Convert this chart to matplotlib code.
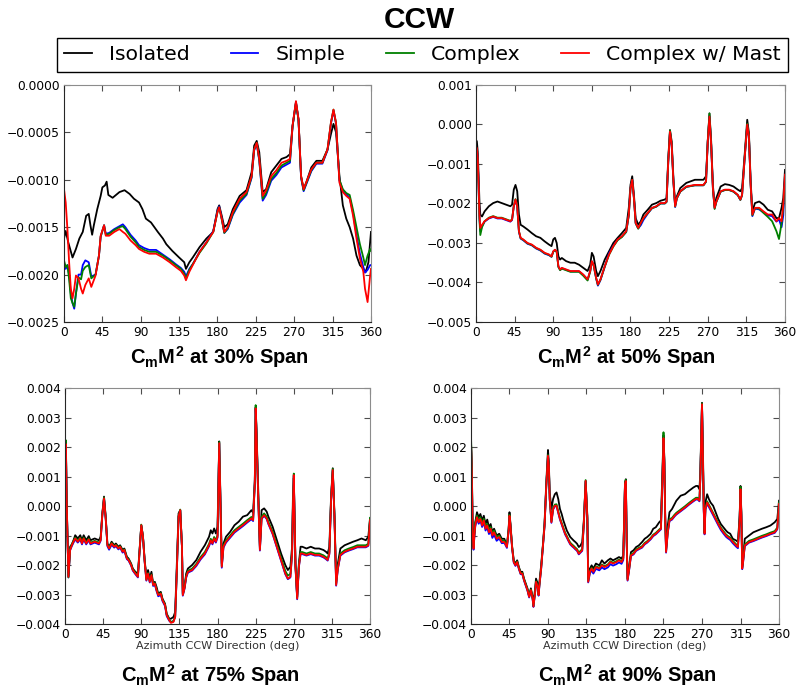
import matplotlib
matplotlib.use("Agg")
import matplotlib.pyplot as plt
import matplotlib.ticker as ticker
import numpy as np

# values are CmM^2 in units of 1e-4

# ---- 30% span ----
az_iso_30 = [0, 2, 5, 10, 14, 18, 22, 26, 29, 31,
             33, 35, 39, 43, 45, 48, 50, 52, 57, 65,
             71, 77, 82, 88, 92, 96, 102, 106, 110, 116,
             120, 127, 135, 141, 143, 147, 151, 159, 167, 175,
             180, 182, 185, 188, 192, 198, 206, 214, 220, 223,
             226, 229, 233, 237, 243, 249, 255, 261, 265, 268,
             272, 275, 278, 281, 284, 290, 296, 303, 309, 313,
             316, 319, 323, 327, 331, 335, 339, 343, 347, 351,
             354, 357, 360]
iso_30 = [-16.2, -15.4, -16.6, -18.2, -17.3, -16.2, -15.5, -13.8, -13.6, -14.8,
          -15.8, -14.8, -13.1, -11.7, -10.8, -10.6, -10.2, -11.6, -11.9, -11.3,
          -11.1, -11.5, -12.0, -12.4, -13.1, -14.1, -14.5, -15.0, -15.5, -16.2,
          -16.8, -17.5, -18.2, -18.7, -19.4, -18.7, -18.2, -17.1, -16.2, -15.5,
          -13.1, -12.7, -13.8, -15.0, -14.7, -13.1, -11.7, -11.1, -9.2, -6.4,
          -5.9, -7.1, -11.3, -11.0, -9.2, -8.5, -7.8, -7.6, -7.3, -4.3,
          -1.9, -3.6, -9.6, -11.0, -10.3, -8.7, -8.0, -8.0, -6.8, -5.2,
          -4.1, -5.0, -9.6, -12.7, -14.1, -15.0, -16.2, -18.0, -19.0, -19.4,
          -19.7, -18.7, -15.5]

az_30 = [0, 2, 4, 6, 8, 10, 12, 14, 17, 20,
         22, 25, 29, 32, 37, 41, 43, 47, 49, 53,
         59, 65, 69, 72, 78, 84, 88, 94, 100, 108,
         116, 124, 131, 137, 141, 143, 147, 151, 159, 167,
         175, 180, 182, 185, 188, 192, 198, 206, 214, 220,
         223, 226, 229, 233, 237, 243, 249, 255, 261, 265,
         268, 272, 275, 278, 281, 284, 290, 296, 303, 309,
         313, 316, 319, 323, 327, 331, 335, 339, 343, 347,
         351, 353, 356, 359, 360]
simple_30 = [-19.0, -19.4, -19.0, -20.0, -22.0, -23.0, -23.6, -22.0, -20.0, -20.0,
             -19.0, -18.5, -18.7, -20.2, -20.0, -18.0, -16.0, -14.8, -15.7, -15.6,
             -15.2, -14.9, -14.7, -15.0, -15.8, -16.4, -16.9, -17.2, -17.4, -17.4,
             -17.9, -18.4, -18.9, -19.3, -19.7, -20.2, -19.4, -18.9, -17.6, -16.6,
             -15.4, -13.3, -12.8, -14.1, -15.6, -15.2, -13.7, -12.4, -11.6, -9.8,
             -6.9, -6.2, -8.0, -12.2, -11.6, -10.1, -9.5, -8.7, -8.4, -8.2,
             -4.4, -1.8, -3.7, -9.8, -11.2, -10.5, -9.1, -8.3, -8.3, -6.9,
             -4.1, -2.7, -4.1, -10.1, -11.1, -11.5, -11.9, -13.5, -15.8, -17.8,
             -19.2, -19.8, -19.5, -19.0, -19.0]
complex_30 = [-18.5, -19.2, -19.0, -20.5, -22.5, -23.0, -23.4, -22.0, -20.3, -20.5,
              -19.6, -19.2, -19.0, -20.4, -20.0, -18.0, -16.0, -14.8, -15.8, -15.7,
              -15.3, -15.0, -14.9, -15.2, -16.0, -16.6, -17.1, -17.4, -17.6, -17.6,
              -18.0, -18.5, -19.0, -19.4, -19.9, -20.4, -19.5, -18.9, -17.7, -16.7,
              -15.5, -13.4, -12.9, -14.2, -15.6, -15.1, -13.6, -12.2, -11.5, -9.7,
              -6.8, -6.1, -7.9, -12.0, -11.4, -9.9, -9.3, -8.5, -8.2, -8.0,
              -4.4, -1.8, -3.7, -9.7, -11.1, -10.4, -9.0, -8.2, -8.2, -6.8,
              -4.0, -2.6, -4.0, -10.0, -11.0, -11.4, -11.6, -13.2, -15.0, -16.8,
              -18.2, -19.0, -18.0, -17.3, -17.5]
mast_30 = [-11.0, -12.4, -15.2, -18.7, -21.5, -22.5, -21.5, -20.1, -20.4, -21.5,
           -22.0, -21.1, -20.4, -21.3, -20.1, -18.0, -15.9, -14.8, -15.9, -15.9,
           -15.5, -15.2, -15.5, -15.7, -16.4, -16.9, -17.3, -17.6, -17.8, -17.8,
           -18.2, -18.7, -19.2, -19.6, -20.1, -20.6, -19.7, -19.0, -17.6, -16.6,
           -15.5, -13.4, -12.9, -14.1, -15.5, -15.0, -13.4, -12.0, -11.3, -9.6,
           -6.8, -6.1, -7.8, -11.7, -11.1, -9.6, -9.0, -8.2, -8.0, -7.8,
           -4.3, -1.7, -3.6, -9.6, -11.0, -10.3, -8.9, -8.2, -8.2, -6.8,
           -4.0, -2.6, -4.0, -10.3, -11.3, -11.7, -12.0, -13.8, -16.2, -18.3,
           -19.7, -21.5, -22.9, -20.1, -19.4]

# ---- 50% span ----
az_50 = [0, 1, 2, 3, 4, 5, 7, 10, 15, 20,
         25, 30, 35, 40, 42, 44, 46, 48, 50, 52,
         55, 60, 65, 70, 75, 80, 85, 88, 90, 92,
         94, 96, 98, 100, 105, 110, 115, 120, 125, 130,
         133, 135, 137, 140, 142, 145, 150, 155, 160, 165,
         170, 175, 178, 180, 182, 184, 186, 189, 192, 195,
         200, 205, 210, 215, 220, 222, 224, 226, 228, 230,
         232, 234, 238, 245, 255, 265, 268, 270, 272, 274,
         276, 278, 280, 285, 290, 295, 300, 305, 308, 310,
         313, 316, 318, 320, 322, 325, 330, 335, 340, 345,
         350, 353, 356, 358, 360]
iso_50 = [-3.9, -4.3, -6.8, -12.7, -19.5, -22.8, -23.3, -22.0, -20.7, -19.9,
          -19.5, -19.9, -20.3, -20.7, -20.3, -16.5, -15.3, -16.9, -22.8, -25.4,
          -25.8, -26.6, -27.5, -28.3, -28.7, -29.6, -30.4, -30.8, -29.1, -28.7,
          -30.0, -33.4, -34.2, -33.8, -34.6, -35.0, -35.0, -35.5, -36.3, -37.1,
          -35.5, -32.5, -33.4, -37.1, -38.4, -37.1, -34.2, -32.1, -30.0, -28.7,
          -27.5, -26.2, -21.1, -15.3, -13.1, -17.8, -23.7, -25.4, -24.5, -22.8,
          -21.6, -20.3, -19.9, -19.3, -19.0, -18.6, -8.5, -1.4, -4.3, -13.6,
          -20.3, -18.2, -16.1, -14.8, -14.0, -14.0, -13.1, -4.3, 2.8, -4.3,
          -15.3, -20.7, -18.6, -15.7, -15.1, -15.3, -15.7, -16.5, -16.9, -16.1,
          -7.7, 1.2, -2.2, -14.4, -22.0, -19.9, -19.5, -20.3, -21.6, -22.0,
          -23.7, -23.7, -21.1, -18.6, -11.5]
simple_50 = [-5.9, -6.4, -8.8, -15.6, -23.5, -27.0, -25.8, -24.6, -23.8, -23.4,
             -23.8, -23.8, -24.2, -24.6, -24.2, -20.8, -19.1, -20.8, -27.2, -28.9,
             -29.3, -30.2, -30.6, -31.4, -31.9, -32.7, -33.1, -33.5, -32.2, -31.8,
             -32.2, -36.0, -36.8, -36.4, -36.8, -37.2, -37.2, -37.2, -38.1, -39.3,
             -37.2, -34.7, -35.6, -39.0, -40.8, -39.4, -36.0, -32.6, -30.7, -29.2,
             -28.4, -27.2, -23.0, -16.2, -14.1, -18.7, -25.0, -26.3, -25.5, -24.2,
             -22.6, -21.2, -20.8, -20.0, -20.0, -19.6, -9.5, -1.9, -5.3, -14.5,
             -20.9, -18.7, -17.0, -15.8, -15.4, -15.4, -14.5, -4.4, 2.0, -5.3,
             -16.2, -21.2, -19.6, -17.0, -16.6, -16.6, -17.0, -17.9, -19.1, -17.9,
             -8.6, -0.1, -3.1, -15.4, -23.2, -21.3, -21.5, -22.3, -23.0, -23.2,
             -24.6, -24.0, -26.0, -23.0, -13.5]
complex_50 = [-6.0, -6.5, -9.0, -15.8, -24.0, -28.0, -26.0, -24.5, -23.6, -23.2,
              -23.6, -23.6, -24.0, -24.4, -24.0, -20.6, -18.9, -20.6, -27.0, -28.8,
              -29.2, -30.1, -30.5, -31.3, -31.8, -32.6, -33.0, -33.5, -32.2, -31.8,
              -32.3, -36.1, -36.9, -36.5, -36.9, -37.3, -37.3, -37.3, -38.3, -39.5,
              -37.3, -34.7, -35.6, -39.0, -40.6, -39.3, -36.0, -33.0, -30.9, -29.3,
              -28.5, -27.2, -23.0, -16.2, -14.0, -18.7, -25.0, -26.4, -25.0, -23.8,
              -22.5, -21.2, -20.8, -20.0, -20.0, -19.6, -9.2, -1.5, -5.1, -14.4,
              -20.8, -18.7, -17.0, -15.8, -15.4, -15.4, -14.5, -4.1, 2.8, -5.0,
              -16.2, -21.4, -19.6, -17.0, -16.6, -16.6, -17.0, -17.9, -19.1, -17.9,
              -8.4, 0.2, -2.9, -15.4, -23.0, -21.2, -21.3, -22.4, -23.4, -24.5,
              -27.0, -29.0, -25.0, -21.0, -14.0]
mast_50 = [-5.6, -6.0, -8.5, -15.3, -22.8, -26.2, -25.4, -24.5, -23.7, -23.3,
           -23.7, -23.7, -24.1, -24.5, -24.1, -20.7, -19.0, -20.7, -27.0, -28.7,
           -29.1, -30.0, -30.4, -31.2, -31.7, -32.5, -32.9, -33.4, -32.1, -31.7,
           -32.1, -35.9, -36.7, -36.3, -36.7, -37.1, -37.1, -37.1, -38.0, -39.2,
           -37.1, -34.6, -35.5, -38.8, -40.5, -39.2, -35.9, -32.9, -30.8, -29.1,
           -28.3, -27.0, -22.8, -16.1, -14.0, -18.6, -24.9, -26.2, -24.9, -23.7,
           -22.4, -21.1, -20.7, -19.9, -19.9, -19.5, -9.4, -1.8, -5.2, -14.4,
           -20.7, -18.6, -16.9, -15.7, -15.3, -15.3, -14.4, -4.3, 2.0, -5.2,
           -16.1, -21.1, -19.5, -16.9, -16.5, -16.5, -16.9, -17.8, -19.0, -17.8,
           -8.5, 0.0, -3.0, -15.3, -22.8, -21.1, -21.1, -22.0, -22.8, -22.8,
           -24.5, -23.7, -24.5, -20.3, -12.7]

# ---- 75% span ----
az_75 = [0, 1, 2, 4, 6, 8, 10, 12, 15, 18,
         20, 22, 25, 28, 30, 35, 40, 42, 44, 46,
         48, 50, 52, 55, 58, 60, 63, 65, 68, 70,
         73, 75, 78, 80, 83, 86, 88, 90, 92, 94,
         96, 98, 100, 102, 104, 106, 108, 110, 113, 115,
         118, 120, 123, 125, 128, 130, 132, 134, 136, 138,
         139, 141, 143, 145, 150, 155, 160, 165, 168, 170,
         172, 174, 176, 178, 180, 182, 183, 185, 187, 190,
         195, 200, 205, 210, 215, 220, 222, 224, 225, 226,
         228, 230, 232, 235, 238, 240, 245, 250, 255, 260,
         263, 266, 268, 269, 270, 272, 274, 276, 278, 280,
         285, 290, 295, 300, 305, 308, 310, 312, 314, 316,
         318, 320, 322, 325, 330, 335, 340, 345, 350, 355,
         358, 360]
iso_75 = [2.0, 20.5, 0.0, -23.8, -13.8, -13.0, -11.6, -9.9, -11.0, -9.9,
          -11.6, -9.9, -11.6, -10.2, -11.6, -11.0, -11.6, -10.4, -2.5, 3.2,
          -3.6, -12.7, -13.8, -12.1, -13.3, -12.7, -13.8, -13.3, -14.9, -14.4,
          -17.2, -17.8, -19.5, -21.2, -22.3, -22.9, -14.9, -6.5, -10.4, -18.3,
          -24.0, -21.7, -24.6, -22.3, -26.3, -25.7, -27.4, -29.7, -29.1, -31.4,
          -33.1, -36.5, -38.2, -38.2, -37.6, -35.9, -19.5, -2.5, -1.4, -13.8,
          -29.7, -27.4, -22.9, -21.2, -20.0, -18.3, -15.5, -13.3, -11.6, -10.4,
          -8.2, -9.3, -7.6, -9.3, -7.0, 21.9, 8.8, -19.5, -12.7, -10.4,
          -8.7, -6.5, -5.3, -3.6, -3.1, -1.4, -2.3, 8.8, 33.5, 25.8,
          5.4, -13.8, -1.4, -0.8, -1.9, -3.6, -7.0, -11.6, -16.1, -20.0,
          -21.7, -20.6, -13.8, 3.2, 9.5, -19.5, -30.8, -19.5, -13.8, -13.8,
          -14.4, -13.8, -14.4, -14.4, -14.9, -15.5, -16.1, -13.8, 3.2, 12.8,
          -2.5, -25.1, -19.5, -14.4, -13.3, -12.7, -12.1, -11.6, -11.0, -11.6,
          -10.4, -4.2]
simple_75 = [2.6, 20.8, 0.7, -24.2, -15.0, -13.6, -12.4, -11.3, -12.4, -11.3,
             -13.0, -11.3, -13.0, -11.6, -13.0, -12.4, -13.0, -11.8, -3.2, 2.5,
             -4.3, -13.6, -14.8, -13.1, -14.1, -13.6, -14.7, -14.1, -15.8, -15.2,
             -18.0, -18.5, -20.2, -21.9, -23.1, -24.2, -15.6, -6.6, -10.5, -19.0,
             -25.3, -23.1, -25.9, -23.6, -27.1, -26.6, -28.8, -30.6, -30.1, -32.2,
             -33.9, -37.3, -38.9, -39.4, -39.0, -37.5, -21.8, -3.7, -1.5, -13.9,
             -30.4, -28.1, -24.3, -22.6, -21.9, -20.3, -18.1, -16.4, -14.7, -13.6,
             -11.9, -13.0, -11.3, -12.4, -10.7, 21.2, 7.6, -20.9, -14.1, -12.4,
             -10.7, -9.0, -7.9, -6.8, -5.6, -4.5, -5.1, 7.6, 33.0, 24.6,
             3.0, -15.1, -4.4, -3.3, -4.4, -6.1, -9.5, -14.0, -18.5, -23.1,
             -24.8, -24.2, -16.3, -0.4, 10.3, -20.8, -31.6, -20.8, -16.3, -16.3,
             -16.8, -16.3, -16.8, -16.8, -17.4, -18.0, -18.5, -16.3, 1.8, 12.0,
             -3.8, -27.0, -21.4, -16.8, -15.7, -15.1, -14.6, -14.0, -14.0, -14.0,
             -13.5, -5.0]
complex_75 = [2.8, 22.3, 1.2, -24.2, -14.6, -13.0, -11.9, -10.7, -11.8, -10.7,
              -12.4, -10.7, -12.4, -11.0, -12.4, -11.8, -12.4, -11.3, -2.9, 2.9,
              -4.0, -13.1, -14.2, -12.5, -13.6, -13.1, -14.2, -13.6, -15.3, -14.7,
              -17.6, -18.1, -19.8, -21.5, -22.7, -23.8, -15.3, -6.3, -10.3, -18.7,
              -24.9, -22.7, -25.5, -23.2, -26.6, -26.1, -28.3, -30.0, -29.5, -31.7,
              -33.4, -36.8, -38.5, -39.3, -39.0, -37.4, -21.5, -3.4, -1.2, -13.7,
              -30.0, -27.7, -23.7, -22.0, -21.2, -19.6, -17.3, -15.6, -13.9, -12.8,
              -11.1, -12.2, -10.5, -11.6, -9.9, 21.7, 8.0, -20.3, -13.4, -11.6,
              -9.9, -8.2, -7.1, -6.0, -4.8, -3.7, -4.3, 8.0, 34.2, 25.3,
              3.8, -14.5, -3.6, -2.5, -3.6, -5.3, -8.7, -13.2, -17.6, -22.0,
              -23.6, -23.0, -15.5, 0.5, 11.0, -20.2, -31.0, -20.2, -15.6, -15.6,
              -16.1, -15.6, -16.1, -16.1, -16.7, -17.3, -17.8, -15.6, 2.4, 12.6,
              -3.2, -26.3, -20.8, -16.1, -15.0, -14.4, -13.9, -13.3, -13.3, -13.3,
              -12.8, -4.0]
mast_75 = [2.6, 21.0, 0.9, -24.0, -14.9, -13.3, -12.1, -11.0, -12.1, -11.0,
           -12.7, -11.0, -12.7, -11.3, -12.7, -12.1, -12.7, -11.6, -3.1, 2.6,
           -4.2, -13.3, -14.4, -12.7, -13.8, -13.3, -14.4, -13.8, -15.5, -14.9,
           -17.8, -18.3, -20.0, -21.7, -22.9, -24.0, -15.5, -6.5, -10.4, -18.9,
           -25.1, -22.9, -25.7, -23.4, -26.8, -26.3, -28.5, -30.2, -29.7, -31.9,
           -33.6, -37.0, -38.7, -39.6, -39.3, -37.6, -21.7, -3.6, -1.4, -13.8,
           -30.2, -27.9, -24.0, -22.3, -21.7, -20.0, -17.8, -16.1, -14.4, -13.3,
           -11.6, -12.7, -11.0, -12.1, -10.4, 21.3, 7.7, -20.6, -13.8, -12.1,
           -10.4, -8.7, -7.6, -6.5, -5.3, -4.2, -4.8, 7.7, 33.1, 24.7,
           3.2, -14.9, -4.2, -3.1, -4.2, -5.9, -9.3, -13.8, -18.3, -22.9,
           -24.6, -24.0, -16.1, -0.2, 10.5, -20.6, -31.4, -20.6, -16.1, -16.1,
           -16.6, -16.1, -16.6, -16.6, -17.2, -17.8, -18.3, -16.1, 2.0, 12.2,
           -3.6, -26.8, -21.2, -16.6, -15.5, -14.9, -14.4, -13.8, -13.8, -13.8,
           -13.3, -4.8]

# ---- 90% span ----
az_90 = [0, 1, 2, 3, 4, 5, 7, 9, 11, 13,
         15, 17, 19, 21, 23, 25, 27, 30, 33, 36,
         39, 42, 44, 45, 46, 48, 50, 52, 54, 56,
         58, 60, 62, 64, 66, 68, 70, 72, 73, 75,
         76, 78, 79, 80, 82, 84, 86, 88, 90, 91,
         92, 94, 96, 98, 100, 102, 104, 106, 108, 110,
         112, 114, 116, 118, 120, 122, 124, 126, 128, 130,
         132, 134, 136, 137, 139, 141, 143, 146, 150, 153,
         156, 160, 163, 166, 170, 173, 176, 178, 180, 181,
         182, 183, 185, 187, 190, 193, 196, 200, 203, 206,
         210, 213, 216, 220, 222, 224, 225, 226, 227, 228,
         230, 232, 235, 238, 240, 245, 250, 255, 260, 263,
         265, 267, 268, 270, 271, 272, 273, 274, 276, 278,
         280, 283, 286, 289, 292, 295, 298, 300, 303, 306,
         310, 312, 314, 315, 316, 317, 318, 320, 325, 330,
         335, 340, 345, 350, 355, 358, 360]
iso_90 = [22.0, 13.6, -8.9, -13.9, -8.9, -5.5, -2.1, -3.8, -2.7, -4.9,
          -3.3, -6.1, -4.6, -7.2, -6.1, -8.9, -7.7, -10.0, -9.4, -11.1,
          -11.1, -13.4, -7.7, -2.1, -5.5, -13.4, -18.4, -19.5, -18.4, -20.7,
          -22.3, -22.3, -24.6, -26.3, -27.9, -30.2, -27.9, -30.8, -33.0, -27.9,
          -24.6, -26.3, -29.1, -25.7, -20.1, -13.4, -5.5, 8.0, 19.0, 14.7,
          4.6, -1.0, 2.4, 4.0, 4.6, 2.4, -1.0, -2.7, -4.9, -6.6,
          -8.3, -9.4, -10.5, -11.1, -11.7, -12.2, -12.8, -13.9, -13.4, -12.2,
          -4.4, 8.5, -3.3, -24.6, -21.2, -20.1, -21.2, -19.5, -20.1, -18.4,
          -19.5, -18.4, -17.8, -18.4, -17.8, -17.3, -17.8, -16.7, 8.0, 9.1,
          -11.1, -24.6, -20.1, -15.6, -15.0, -13.9, -13.4, -12.2, -11.1, -10.5,
          -9.4, -7.7, -7.2, -5.5, -4.9, 13.6, 24.0, 15.8, -3.3, -14.5,
          -6.6, -2.1, -1.0, 0.7, 1.8, 3.5, 4.0, 5.2, 6.3, 6.8,
          6.8, 5.7, 11.3, 35.0, 20.3, 2.4, -8.9, 1.2, 4.0, 2.4,
          1.2, 0.1, -2.1, -4.4, -6.1, -7.2, -8.3, -8.9, -9.4, -11.1,
          -11.7, -12.2, -3.3, 6.8, -2.1, -20.1, -17.8, -11.1, -10.0, -8.9,
          -8.3, -7.7, -7.2, -6.6, -5.5, -4.4, 1.8]
simple_90 = [21.5, 11.0, -10.3, -14.8, -10.3, -7.0, -4.3, -6.0, -4.9, -7.1,
             -5.5, -8.3, -7.2, -9.5, -8.4, -10.8, -9.7, -11.8, -11.0, -12.6,
             -12.5, -14.2, -8.5, -3.5, -6.3, -14.1, -19.2, -20.3, -19.2, -21.4,
             -23.1, -23.1, -25.3, -27.0, -28.7, -31.0, -28.7, -31.5, -34.2, -29.3,
             -25.9, -27.6, -30.4, -27.0, -21.4, -14.1, -6.8, 6.6, 16.8, 13.4,
             2.2, -5.7, -1.2, -0.1, -0.1, -2.3, -4.6, -6.3, -7.9, -9.6,
             -10.7, -11.9, -13.0, -13.6, -14.1, -14.7, -15.2, -16.4, -15.8, -15.2,
             -5.7, 8.3, -4.6, -25.9, -22.8, -21.8, -22.9, -21.3, -21.8, -20.8,
             -21.4, -20.8, -19.7, -20.2, -19.7, -19.1, -19.6, -18.3, 7.2, 8.3,
             -12.4, -25.3, -21.4, -16.9, -16.4, -15.2, -14.7, -14.1, -13.0, -12.4,
             -11.3, -10.2, -9.6, -8.5, -7.9, 11.1, 22.8, 14.5, -4.6, -15.8,
             -9.1, -5.1, -4.6, -3.5, -2.9, -1.8, -0.7, 0.5, 1.6, 2.2,
             2.2, 1.6, 8.9, 34.3, 17.8, -1.2, -9.6, -1.2, 0.8, -0.3,
             -1.4, -3.1, -4.8, -6.5, -8.1, -9.3, -10.4, -10.9, -11.5, -12.6,
             -13.8, -14.3, -4.6, 5.5, -3.5, -21.4, -19.2, -13.6, -12.4, -11.9,
             -11.3, -10.7, -10.2, -9.6, -9.1, -7.9, 0.5]
complex_90 = [24.0, 13.0, -9.5, -14.0, -9.5, -6.0, -3.2, -4.9, -3.8, -6.0,
              -4.3, -7.1, -6.0, -8.3, -7.1, -9.4, -8.3, -10.5, -10.0, -11.7,
              -11.7, -13.5, -8.0, -3.0, -5.9, -13.7, -18.8, -19.9, -18.8, -21.0,
              -22.7, -22.7, -24.9, -26.6, -28.3, -30.6, -28.3, -31.1, -33.9, -28.9,
              -25.5, -27.2, -30.0, -26.6, -21.0, -13.7, -6.4, 7.0, 17.3, 13.8,
              2.7, -5.2, -0.6, 0.5, 0.6, -1.7, -4.0, -5.7, -7.3, -9.0,
              -10.1, -11.3, -12.4, -13.0, -13.5, -14.1, -14.6, -15.8, -15.2, -14.6,
              -5.2, 8.8, -4.1, -25.4, -22.0, -20.9, -22.0, -20.4, -20.9, -19.8,
              -20.4, -19.8, -18.7, -19.2, -18.7, -18.1, -18.7, -17.5, 7.8, 8.9,
              -11.9, -24.8, -20.9, -16.4, -15.9, -14.7, -14.2, -13.6, -12.5, -11.9,
              -10.8, -9.7, -9.1, -8.0, -7.4, 12.0, 25.0, 15.5, -4.0, -15.2,
              -8.5, -4.5, -4.0, -2.9, -2.3, -1.2, -0.1, 1.1, 2.2, 2.8,
              2.8, 2.2, 9.5, 34.8, 18.5, -0.6, -9.1, -0.6, 1.6, 0.5,
              -0.6, -2.3, -4.0, -5.7, -7.3, -8.5, -9.6, -10.1, -10.7, -11.8,
              -13.0, -13.5, -4.0, 6.5, -2.9, -20.8, -18.6, -13.0, -11.8, -11.3,
              -10.7, -10.1, -9.6, -9.0, -8.5, -7.3, 1.2]
mast_90 = [22.0, 11.3, -10.0, -14.5, -10.0, -6.6, -3.8, -5.5, -4.4, -6.6,
           -4.9, -7.7, -6.6, -8.9, -7.7, -10.0, -8.9, -11.1, -10.5, -12.2,
           -12.2, -13.9, -8.3, -3.3, -6.1, -13.9, -19.0, -20.1, -19.0, -21.2,
           -22.9, -22.9, -25.1, -26.8, -28.5, -30.8, -28.5, -31.3, -34.1, -29.1,
           -25.7, -27.4, -30.2, -26.8, -21.2, -13.9, -6.6, 6.8, 17.0, 13.6,
           2.4, -5.5, -1.0, 0.1, 0.1, -2.1, -4.4, -6.1, -7.7, -9.4,
           -10.5, -11.7, -12.8, -13.4, -13.9, -14.5, -15.0, -16.2, -15.6, -15.0,
           -5.5, 8.5, -4.4, -25.7, -22.3, -21.2, -22.3, -20.7, -21.2, -20.1,
           -20.7, -20.1, -19.0, -19.5, -19.0, -18.4, -19.0, -17.8, 7.4, 8.5,
           -12.2, -25.1, -21.2, -16.7, -16.2, -15.0, -14.5, -13.9, -12.8, -12.2,
           -11.1, -10.0, -9.4, -8.3, -7.7, 11.3, 23.0, 14.7, -4.4, -15.6,
           -8.9, -4.9, -4.4, -3.3, -2.7, -1.6, -0.5, 0.7, 1.8, 2.4,
           2.4, 1.8, 9.1, 34.5, 18.0, -1.0, -9.4, -1.0, 1.2, 0.1,
           -1.0, -2.7, -4.4, -6.1, -7.7, -8.9, -10.0, -10.5, -11.1, -12.2,
           -13.4, -13.9, -4.4, 5.7, -3.3, -21.2, -19.0, -13.4, -12.2, -11.7,
           -11.1, -10.5, -10.0, -9.4, -8.9, -7.7, 0.7]

series_names = ['Isolated', 'Simple', 'Complex', 'Complex w/ Mast']
series_colors = ['black', 'blue', 'green', 'red']
x_ticks = [0, 45, 90, 135, 180, 225, 270, 315, 360]

plt.rcParams['mathtext.fontset'] = 'custom'
plt.rcParams['mathtext.rm'] = 'Liberation Sans:bold'
plt.rcParams['mathtext.it'] = 'Liberation Sans:bold'
plt.rcParams['mathtext.bf'] = 'Liberation Sans:bold'

fig = plt.figure(figsize=(7.98, 6.96), dpi=100)

# [left, bottom, width, height], ylim, ytick step, y format, data
panels = [
    ([0.0802, 0.5374, 0.3847, 0.3405], (-0.0025, 0.0), 0.0005, '%.4f',
     (az_iso_30, iso_30), az_30, simple_30, complex_30, mast_30, '30%', False),
    ([0.5965, 0.5374, 0.3872, 0.3405], (-0.005, 0.001), 0.001, '%.3f',
     (az_50, iso_50), az_50, simple_50, complex_50, mast_50, '50%', False),
    ([0.0815, 0.1034, 0.3822, 0.3391], (-0.004, 0.004), 0.001, '%.3f',
     (az_75, iso_75), az_75, simple_75, complex_75, mast_75, '75%', True),
    ([0.5902, 0.1034, 0.3860, 0.3391], (-0.004, 0.004), 0.001, '%.3f',
     (az_90, iso_90), az_90, simple_90, complex_90, mast_90, '90%', True),
]

handles = []
for (pos, ylim, ystep, yfmt, iso, az, simple, complex_, mast,
     span, bottom_row) in panels:
    ax = fig.add_axes(pos)
    lines = []
    lines += ax.plot(iso[0], np.array(iso[1]) * 1e-4, color=series_colors[0], lw=1.3)
    for vals, col in zip([simple, complex_, mast], series_colors[1:]):
        lines += ax.plot(az, np.array(vals) * 1e-4, color=col, lw=1.3)
    if not handles:
        handles = lines

    ax.set_xlim(0, 360)
    ax.set_ylim(*ylim)
    ax.set_xticks(x_ticks)
    ax.yaxis.set_major_locator(ticker.MultipleLocator(ystep))
    ax.yaxis.set_major_formatter(ticker.FuncFormatter(
        lambda v, p, f=yfmt: (f % v).replace('-', '\u2212') if abs(v) > 1e-12
        else f % 0.0))
    ax.tick_params(direction='in', top=True, right=True, length=4,
                   width=0.8, labelsize=8.8, pad=3, color='0.3')
    for side in ['left', 'bottom']:
        ax.spines[side].set_color('0.15')
    for side in ['top', 'right']:
        ax.spines[side].set_color('0.55')

    if bottom_row:
        ax.set_xlabel('Azimuth CCW Direction (deg)', fontsize=8, labelpad=0,
                      color='0.2')

# panel titles below each plot
title_pos = [(219, 357), (626, 357), (210, 675), (627, 675)]
for (px, py), p in zip(title_pos, panels):
    fig.text(px / 798, 1 - py / 696, r'$C_mM^2$ at %s Span' % p[9],
             ha='center', va='center', fontsize=14.5, fontweight='bold',
             family='Liberation Sans')

fig.text(419 / 798, 1 - 20 / 696, 'CCW', ha='center', va='center',
         fontsize=21.5, fontweight='bold', family='Liberation Sans')

fig.legend(handles, series_names, loc='center',
           bbox_to_anchor=(57 / 798, 1 - 72 / 696, 731 / 798, 34 / 696),
           mode='expand', ncol=4, fontsize=14.7, fancybox=False,
           edgecolor='black', borderaxespad=0, handlelength=1.35,
           handletextpad=0.85, borderpad=0.35, framealpha=1)

fig.savefig('out.png', dpi=100)
